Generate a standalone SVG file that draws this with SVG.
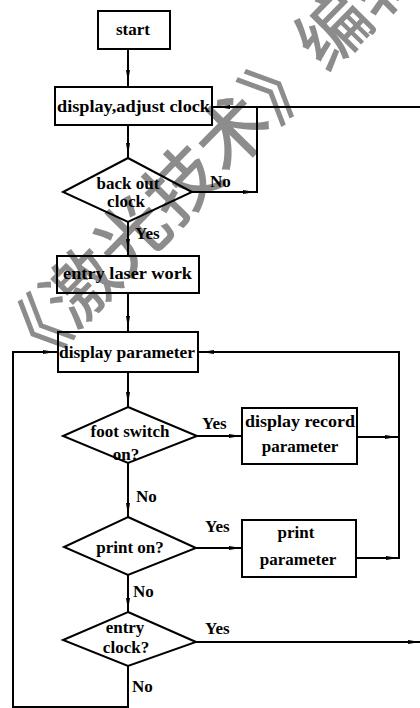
<svg xmlns="http://www.w3.org/2000/svg" width="420" height="708" viewBox="0 0 420 708">
<defs>
<style>
.wm{font-family:"Noto Sans CJK SC","Noto Sans CJK TC",sans-serif;font-weight:500;font-size:72px;fill:#8c8c8c}
.box{fill:none;stroke:#000;stroke-width:2}
.ln{fill:none;stroke:#000;stroke-width:2}
.t{font-family:"Liberation Serif","Times New Roman",serif;font-weight:700;font-size:17px;fill:#000}
.m{text-anchor:middle}
</style>
<marker id="ah" viewBox="0 0 12 6" refX="12" refY="3" markerWidth="12" markerHeight="6" markerUnits="userSpaceOnUse" orient="auto">
<path d="M0,1 L12,3 L0,5 z" fill="#000"/>
</marker>
</defs>
<rect width="420" height="708" fill="#fff"/>
<text class="wm" transform="translate(24,382) rotate(-45.5)">《激光技术》编辑</text>

<g id="connectors">
<line class="ln" x1="128" y1="49" x2="128" y2="87"/>
<line class="ln" x1="128" y1="60" x2="128" y2="82" marker-end="url(#ah)"/>
<line class="ln" x1="128" y1="125" x2="128" y2="158"/>
<line class="ln" x1="128" y1="135" x2="128" y2="155" marker-end="url(#ah)"/>
<polyline class="ln" points="192,192 257,192 257,107 212,107"/>
<line class="ln" x1="230" y1="192" x2="255" y2="192" marker-end="url(#ah)"/>
<line class="ln" x1="240" y1="107" x2="218" y2="107" marker-end="url(#ah)"/>
<line class="ln" x1="257" y1="107" x2="420" y2="107"/>
<line class="ln" x1="128" y1="222" x2="128" y2="256"/>
<line class="ln" x1="128" y1="232" x2="128" y2="251" marker-end="url(#ah)"/>
<line class="ln" x1="128" y1="293" x2="128" y2="332"/>
<line class="ln" x1="128" y1="305" x2="128" y2="328" marker-end="url(#ah)"/>
<polyline class="ln" points="128,666 128,707 13,707 13,352 58,352"/>
<line class="ln" x1="30" y1="352" x2="55" y2="352" marker-end="url(#ah)"/>
<polyline class="ln" points="198,352 399,352 399,558 356,558"/>
<line class="ln" x1="225" y1="352" x2="202" y2="352" marker-end="url(#ah)"/>
<line class="ln" x1="128" y1="372" x2="128" y2="407"/>
<line class="ln" x1="128" y1="382" x2="128" y2="404" marker-end="url(#ah)"/>
<line class="ln" x1="197" y1="436" x2="242" y2="436"/>
<line class="ln" x1="215" y1="436" x2="241" y2="436" marker-end="url(#ah)"/>
<line class="ln" x1="357" y1="437" x2="399" y2="437"/>
<line class="ln" x1="370" y1="437" x2="397" y2="437" marker-end="url(#ah)"/>
<line class="ln" x1="128" y1="463" x2="128" y2="517"/>
<line class="ln" x1="128" y1="490" x2="128" y2="515" marker-end="url(#ah)"/>
<line class="ln" x1="196" y1="548" x2="242" y2="548"/>
<line class="ln" x1="215" y1="548" x2="241" y2="548" marker-end="url(#ah)"/>
<line class="ln" x1="370" y1="558" x2="398" y2="558" marker-end="url(#ah)"/>
<line class="ln" x1="128" y1="575" x2="128" y2="612"/>
<line class="ln" x1="128" y1="588" x2="128" y2="610" marker-end="url(#ah)"/>
<line class="ln" x1="196" y1="642" x2="420" y2="642"/>
<line class="ln" x1="400" y1="642" x2="420" y2="642" marker-end="url(#ah)"/>
<text class="t" x="210" y="187">No</text>
<text class="t" x="135" y="239">Yes</text>
<text class="t" x="202" y="429">Yes</text>
<text class="t" x="136" y="502">No</text>
<text class="t" x="205" y="532">Yes</text>
<text class="t" x="133" y="597">No</text>
<text class="t" x="205" y="634">Yes</text>
<text class="t" x="132" y="692">No</text>
</g>

<g id="start">
<rect class="box" x="98" y="11" width="72" height="38" fill="#fff"/>
<text class="t m" x="133" y="35">start</text>
</g>
<g id="display-adjust-clock">
<rect class="box" x="55" y="87" width="157" height="38"/>
<text class="t" x="57" y="112" textLength="153" lengthAdjust="spacingAndGlyphs">display,adjust clock</text>
</g>
<g id="back-out-clock">
<polygon class="box" points="128,158 192,192 128,222 63,192"/>
<text class="t m" x="128" y="189">back out</text>
<text class="t m" x="126" y="207">clock</text>
</g>
<g id="entry-laser-work">
<rect class="box" x="57" y="256" width="142" height="37"/>
<text class="t" x="63" y="279" textLength="129" lengthAdjust="spacingAndGlyphs">entry laser work</text>
</g>
<g id="display-parameter">
<rect class="box" x="58" y="332" width="140" height="40"/>
<text class="t" x="59" y="358" textLength="136" lengthAdjust="spacingAndGlyphs">display parameter</text>
</g>
<g id="foot-switch">
<polygon class="box" points="128,407 197,436 128,463 63,436"/>
<text class="t m" x="130" y="437">foot switch</text>
<text class="t m" x="126" y="460">on?</text>
</g>
<g id="display-record-parameter">
<rect class="box" x="242" y="408" width="115" height="56"/>
<text class="t" x="245" y="427" textLength="110" lengthAdjust="spacingAndGlyphs">display record</text>
<text class="t m" x="300" y="452">parameter</text>
</g>
<g id="print-on">
<polygon class="box" points="128,517 196,548 128,575 64,547"/>
<text class="t m" x="130" y="553">print on?</text>
</g>
<g id="print-parameter">
<rect class="box" x="242" y="520" width="114" height="57"/>
<text class="t m" x="296" y="538">print</text>
<text class="t m" x="298" y="565">parameter</text>
</g>
<g id="entry-clock">
<polygon class="box" points="128,612 196,642 128,666 63,640"/>
<text class="t m" x="125" y="633">entry</text>
<text class="t m" x="126" y="653">clock?</text>
</g>
</svg>
